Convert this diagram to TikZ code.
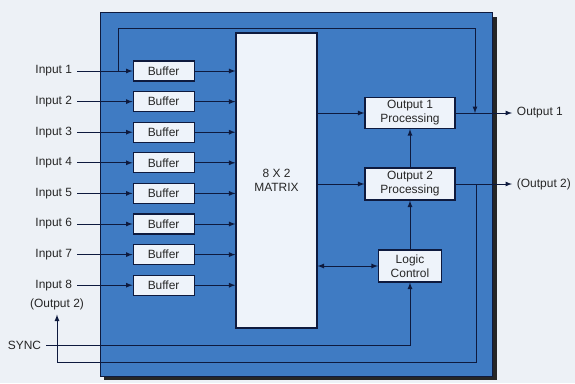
\documentclass[tikz,border=0pt]{standalone}
\usepackage{fontspec}
\setmainfont{Liberation Sans}
\usepackage{tikz}
\usepackage{xcolor}

\definecolor{paper}{HTML}{EDF1F6}
\definecolor{panel}{HTML}{3F7BC3}
\definecolor{navy}{HTML}{0E1A3E}
\definecolor{boxfill}{HTML}{EEF3FA}

\tikzset{
  lbl/.style={font=\fontsize{8.5}{10}\selectfont, text=black!85},
  blk/.style={draw=navy, thick, fill=boxfill, font=\fontsize{8.5}{10}\selectfont,
    text=black!85, align=center, inner sep=1pt},
  sig/.style={navy, semithick, -latex}
}

\begin{document}
\begin{tikzpicture}
  \fill[paper] (0,0) rectangle (14.375,-9.575);
  \useasboundingbox (0,0) rectangle (14.375,-9.575);
  % panel
  \fill[black!85] (2.6,-0.42) rectangle (12.42,-9.5);
  \fill[panel, draw=navy, semithick] (2.5,-0.3) rectangle (12.3,-9.4);

  \node[blk, minimum width=2.025cm, minimum height=7.375cm] (mx) at (6.9125,-4.5125) {8 X 2\\MATRIX};

  \node[lbl, anchor=east] (in1) at (1.925,-1.775) {Input 1};
  \node[lbl, anchor=east] (in2) at (1.925,-2.54) {Input 2};
  \node[lbl, anchor=east] (in3) at (1.925,-3.305) {Input 3};
  \node[lbl, anchor=east] (in4) at (1.925,-4.07) {Input 4};
  \node[lbl, anchor=east] (in5) at (1.925,-4.835) {Input 5};
  \node[lbl, anchor=east] (in6) at (1.925,-5.6) {Input 6};
  \node[lbl, anchor=east] (in7) at (1.925,-6.365) {Input 7};
  \node[lbl, anchor=east] (in8) at (1.925,-7.13) {Input 8};
  \node[lbl] (o2b) at (1.425,-7.6) {(Output 2)};

  \node[blk, minimum width=1.525cm, minimum height=0.5cm] (b1) at (4.09,-1.775) {Buffer};
  \node[blk, minimum width=1.525cm, minimum height=0.5cm] (b2) at (4.09,-2.54) {Buffer};
  \node[blk, minimum width=1.525cm, minimum height=0.5cm] (b3) at (4.09,-3.305) {Buffer};
  \node[blk, minimum width=1.525cm, minimum height=0.5cm] (b4) at (4.09,-4.07) {Buffer};
  \node[blk, minimum width=1.525cm, minimum height=0.5cm] (b5) at (4.09,-4.835) {Buffer};
  \node[blk, minimum width=1.525cm, minimum height=0.5cm] (b6) at (4.09,-5.6) {Buffer};
  \node[blk, minimum width=1.525cm, minimum height=0.5cm] (b7) at (4.09,-6.365) {Buffer};
  \node[blk, minimum width=1.525cm, minimum height=0.5cm] (b8) at (4.09,-7.13) {Buffer};

  \node[blk, minimum width=2.25cm, minimum height=0.775cm] (op1) at (10.25,-2.825) {Output 1\\Processing};
  \node[blk, minimum width=2.25cm, minimum height=0.8cm] (op2) at (10.25,-4.6) {Output 2\\Processing};
  \node[blk, minimum width=1.575cm, minimum height=0.8cm] (lc) at (10.25,-6.65) {Logic\\Control};

  \node[lbl, anchor=west] (o1) at (12.8,-2.825) {Output 1};
  \node[lbl, anchor=west] (o2) at (12.8,-4.6) {(Output 2)};
  \node[lbl, anchor=east] (sync) at (1.15,-8.625) {SYNC};

  \coordinate (tap) at (2.95,-1.775);
  \coordinate (topR) at (11.875,-0.7);
  \coordinate (j1) at (11.875,-2.825);
  \coordinate (j2) at (11.9,-4.6);
  \coordinate (lb) at (1.425,-9.05);

  % inputs into buffers, buffers into the matrix
  \draw[sig] (in1) -- (b1); \draw[sig] (b1.east) -- (b1.east -| mx.west);
  \draw[sig] (in2) -- (b2); \draw[sig] (b2.east) -- (b2.east -| mx.west);
  \draw[sig] (in3) -- (b3); \draw[sig] (b3.east) -- (b3.east -| mx.west);
  \draw[sig] (in4) -- (b4); \draw[sig] (b4.east) -- (b4.east -| mx.west);
  \draw[sig] (in5) -- (b5); \draw[sig] (b5.east) -- (b5.east -| mx.west);
  \draw[sig] (in6) -- (b6); \draw[sig] (b6.east) -- (b6.east -| mx.west);
  \draw[sig] (in7) -- (b7); \draw[sig] (b7.east) -- (b7.east -| mx.west);
  \draw[sig] (in8) -- (b8); \draw[sig] (b8.east) -- (b8.east -| mx.west);

  % matrix to outputs
  \draw[sig] (mx.east |- op1) -- (op1);
  \draw[sig] (mx.east |- op2) -- (op2);
  \draw[sig, latex-latex] (mx.east |- lc) -- (lc);
  \draw[sig] (op2) -- (op1);
  \draw[sig] (lc) -- (op2);
  \draw[sig] (op1) -- (o1);
  \draw[sig] (op2) -- (o2);

  % bypass and loops
  \draw[sig] (tap) |- (topR) -- (j1);
  \draw[sig] (j2) |- (lb) -- (o2b);
  \draw[sig] (sync) -| (lc);
\end{tikzpicture}
\end{document}
